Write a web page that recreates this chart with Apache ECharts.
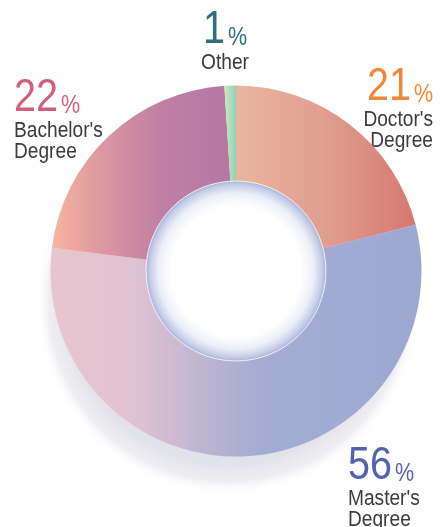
<!DOCTYPE html>
<html lang="en">
<head>
    <meta charset="UTF-8">
    <title>Degrees</title>
    <script src="https://cdn.jsdelivr.net/npm/echarts@6/dist/echarts.min.js"></script>
    <style>
        html, body { margin: 0; padding: 0; background: #fff; }
        #main { width: 440px; height: 527px; }
    </style>
</head>
<body>
<div id="main"></div>
<script type="text/javascript">
    // data
    var categories = ["Doctor's Degree", "Master's Degree", "Bachelor's Degree", "Other"];
    var shares = [21, 56, 22, 1];
    var numberColors = ['#f0883a', '#5461b0', '#cf5f7b', '#2e6e80'];

    // horizontal gradients for each slice (left -> right)
    var sliceStops = [
        [[0, '#e8b69e'], [0.5, '#e09e8f'], [1, '#d6786f']],
        [[0, '#e7c5cf'], [0.22, '#e1c3d1'], [0.42, '#bbb5d1'], [0.56, '#a4acd3'], [1, '#9da8d1']],
        [[0, '#f7b49f'], [0.3, '#dc95a1'], [0.6, '#bf80a3'], [1, '#b478a2']],
        [[0, '#d3e8b6'], [1, '#8bd2bc']]
    ];

    // where each label block sits: [x, y of number top, align]
    var labelPos = [
        [433, 64, 'right'],
        [348, 443, 'left'],
        [14, 75, 'left'],
        [225, 7, 'center']
    ];

    var myChart = echarts.init(document.getElementById('main'));

    var pieData = categories.map(function (name, i) {
        return {
            name: name,
            value: shares[i],
            itemStyle: {
                color: {
                    type: 'linear', x: 0, y: 0, x2: 1, y2: 0,
                    colorStops: sliceStops[i].map(function (s) { return {offset: s[0], color: s[1]}; })
                }
            }
        };
    });

    // no narrow font installed, so squeeze a regular one
    var narrowNum = 0.86, narrowName = 0.87;
    var numFont = '46px "Liberation Sans", Arial, sans-serif';
    var pctFont = '25px "Liberation Sans", Arial, sans-serif';
    var nameFont = '22px "Liberation Sans", Arial, sans-serif';

    var ctx = document.createElement('canvas').getContext('2d');
    function textW(t, f, s) {
        ctx.font = f;
        return ctx.measureText(t).width * s;
    }

    var graphics = [];
    categories.forEach(function (name, i) {
        var p = labelPos[i];
        var num = String(shares[i]);
        var numW = textW(num, numFont, narrowNum);
        var pctW = textW('%', pctFont, narrowNum) + 3;
        var total = numW + pctW;
        var left = p[2] === 'left' ? p[0] : (p[2] === 'right' ? p[0] - total : p[0] - total / 2);
        graphics.push({
            type: 'text', x: left, y: p[1], scaleX: narrowNum, silent: true,
            style: {text: num, font: numFont, fill: numberColors[i], textAlign: 'left', textVerticalAlign: 'top'}
        });
        graphics.push({
            type: 'text', x: left + numW + 3, y: p[1] + 19, scaleX: narrowNum, silent: true,
            style: {text: '%', font: pctFont, fill: numberColors[i], textAlign: 'left', textVerticalAlign: 'top'}
        });
        var lines = name === 'Other' ? ['Other'] : name.split(' ');
        lines.forEach(function (ln, k) {
            graphics.push({
                type: 'text', x: p[0], y: p[1] + 45 + k * 21, scaleX: narrowName, silent: true,
                style: {text: ln, font: nameFont, fill: '#3b3b3b', textAlign: p[2], textVerticalAlign: 'top'}
            });
        });
    });

    var option = {
        backgroundColor: '#ffffff',
        animation: false,
        graphic: graphics,
        series: [
            {
                // soft drop shadow under the ring
                type: 'pie', silent: true, z: 1,
                center: [228, 302], radius: [0, 193],
                label: {show: false}, labelLine: {show: false},
                data: [{
                    value: 1,
                    itemStyle: {
                        color: {
                            type: 'radial', x: 0.5, y: 0.5, r: 0.5,
                            colorStops: [
                                {offset: 0, color: '#e2e2e9'},
                                {offset: 0.84, color: '#e2e2e9'},
                                {offset: 0.93, color: '#efeff3'},
                                {offset: 1, color: 'rgba(255,255,255,0)'}
                            ]
                        }
                    }
                }]
            },
            {
                type: 'pie', silent: true, z: 2,
                center: [236, 271], radius: [89, 185.5],
                startAngle: 90, clockwise: true,
                label: {show: false}, labelLine: {show: false},
                data: pieData
            },
            {
                // hole with a bluish inner glow
                type: 'pie', silent: true, z: 3,
                center: [236, 271], radius: [0, 90],
                label: {show: false}, labelLine: {show: false},
                data: [{
                    value: 1,
                    itemStyle: {
                        borderColor: 'rgba(255,255,255,0.8)', borderWidth: 1,
                        color: {
                            type: 'radial', x: 0.5, y: 0.5, r: 0.5,
                            colorStops: [
                                {offset: 0, color: '#ffffff'},
                                {offset: 0.72, color: '#ffffff'},
                                {offset: 0.86, color: '#eceff7'},
                                {offset: 0.95, color: '#c6cde7'},
                                {offset: 1, color: '#a7b1d7'}
                            ]
                        }
                    }
                }]
            }
        ]
    };
    myChart.setOption(option);
</script>
</body>
</html>
